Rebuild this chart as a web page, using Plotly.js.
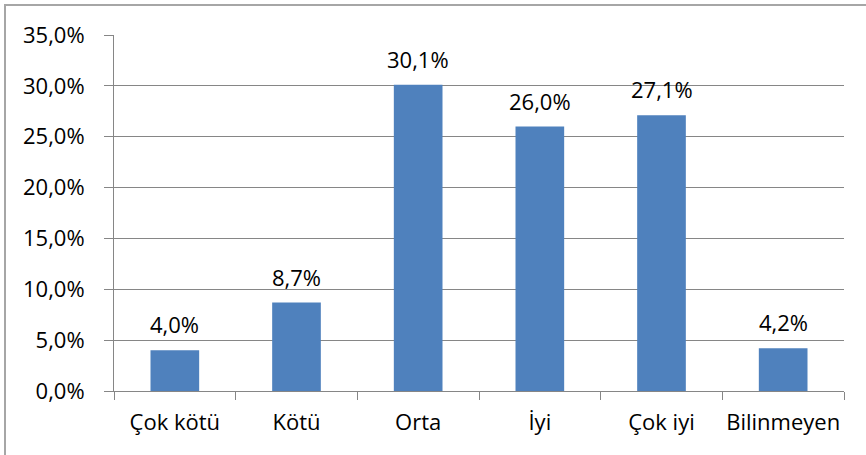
<!DOCTYPE html>
<html>
<head>
<meta charset="utf-8">
<script src="https://cdn.plot.ly/plotly-3.0.1.min.js"></script>
<style>
html,body{margin:0;padding:0;background:#fff;}
#wrap{position:relative;width:866px;height:455px;overflow:hidden;}
#chart{width:866px;height:455px;}
#frame{position:absolute;left:4px;top:4px;width:870px;height:460px;border-left:2px solid #a6a6a6;border-top:2px solid #a6a6a6;pointer-events:none;}
</style>
</head>
<body>
<div id="wrap"><div id="chart"></div><div id="frame"></div></div>
<script>
const categories = ["Çok kötü", "Kötü", "Orta", "İyi", "Çok iyi", "Bilinmeyen"];
const values = [4.0, 8.7, 30.1, 26.0, 27.1, 4.2];
const tickValues = [0, 5, 10, 15, 20, 25, 30, 35];
const tickLabels = ["0,0%", "5,0%", "10,0%", "15,0%", "20,0%", "25,0%", "30,0%", "35,0%"];

const fmt = v => v.toFixed(1).replace('.', ',') + '%';
const FONT = "Open Sans, Noto Sans, sans-serif";
const FS = 22;

const trace = {
  type: 'bar',
  x: categories,
  y: values,
  marker: {color: '#4f81bd', line: {width: 0}},
  hoverinfo: 'x+y'
};

const annotations = categories.map((c, i) => ({
  x: c, y: values[i], xref: 'x', yref: 'y',
  text: fmt(values[i]), showarrow: false,
  yanchor: 'bottom', yshift: 9,
  font: {family: FONT, size: FS, color: '#000'}
}));

const layout = {
  width: 866, height: 455,
  margin: {l: 114, r: 22, t: 35, b: 64},
  paper_bgcolor: '#fff', plot_bgcolor: '#fff',
  showlegend: false,
  bargap: 0.6,
  font: {family: FONT, size: FS, color: '#000'},
  annotations: annotations,
  xaxis: {
    type: 'category',
    showline: true, linecolor: '#868686', linewidth: 1,
    ticks: 'outside', tickson: 'boundaries', ticklen: 8, tickcolor: '#868686',
    tickangle: 0,
    ticklabelstandoff: 12,
    showgrid: false,
    tickfont: {family: FONT, size: FS, color: '#000'}
  },
  yaxis: {
    range: [0, 35],
    tickmode: 'array', tickvals: tickValues, ticktext: tickLabels,
    showline: true, linecolor: '#868686', linewidth: 1,
    ticks: 'outside', ticklen: 9, tickcolor: '#868686',
    ticklabelstandoff: 15,
    showgrid: true, gridcolor: '#868686', gridwidth: 1,
    zeroline: false,
    tickfont: {family: FONT, size: FS, color: '#000'}
  }
};

Plotly.newPlot('chart', [trace], layout, {displayModeBar: false, staticPlot: true});
</script>
</body>
</html>
